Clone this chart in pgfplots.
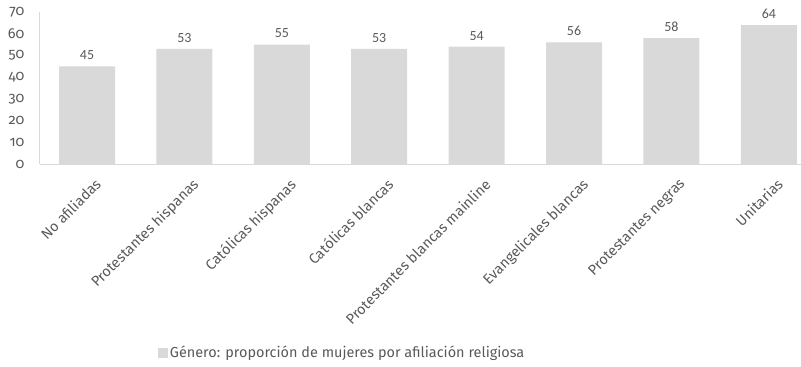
\documentclass[border=0pt]{standalone}
\usepackage{pgfplots}
\pgfplotsset{compat=1.18}
\usepackage{fontspec}
\setmainfont{Fira Sans}[Numbers=OldStyle]
\newfontfamily\calibri{Carlito}
\definecolor{barc}{HTML}{D9D9D9}
\definecolor{txt}{HTML}{595959}
\begin{document}
\begin{tikzpicture}[x=1bp,y=1bp]
\useasboundingbox (-40,-202) rectangle (761,164);
\begin{axis}[
  at={(0,0)}, anchor=south west,
  scale only axis, width=761bp, height=152bp,
  xmin=-0.4826, xmax=7.33, ymin=0, ymax=70,
  /pgf/number format/assume math mode=true,
  ytick={0,10,...,70},
  xtick={0,...,7},
  xticklabels={No afiliadas,Protestantes hispanas,Católicas hispanas,Católicas blancas,Protestantes blancas mainline,Evangelicales blancas,Protestantes negras,Unitarias},
  x tick label style={rotate=45, anchor=north east, font=\fontsize{14.5}{15}\selectfont, text=txt, inner sep=1bp, yshift=-13.4bp, xshift=-3.5bp},
  y tick label style={font=\fontsize{14.5}{15}\selectfont, text=txt, xshift=-12bp},
  axis x line*=bottom, axis y line*=left,
  axis line style={barc, line width=1bp, -},
  major tick length=0,
  ybar, bar width=56bp,
  nodes near coords,
  nodes near coords style={font=\calibri\fontsize{14}{14}\selectfont, text=txt, yshift=3bp},
  legend style={at={(rel axis cs:0.397,-1.243)}, anchor=center, draw=none, fill=none, font=\fontsize{14.5}{15}\selectfont, text=txt},
  legend image code/.code={\fill[barc] (0bp,-5bp) rectangle (10bp,5bp);},
]
\addplot[fill=barc, draw=none] coordinates {(0,45) (1,53) (2,55) (3,53) (4,54) (5,56) (6,58) (7,64)};
\addlegendentry{Género: proporción de mujeres por afiliación religiosa}
\end{axis}
\end{tikzpicture}
\end{document}
